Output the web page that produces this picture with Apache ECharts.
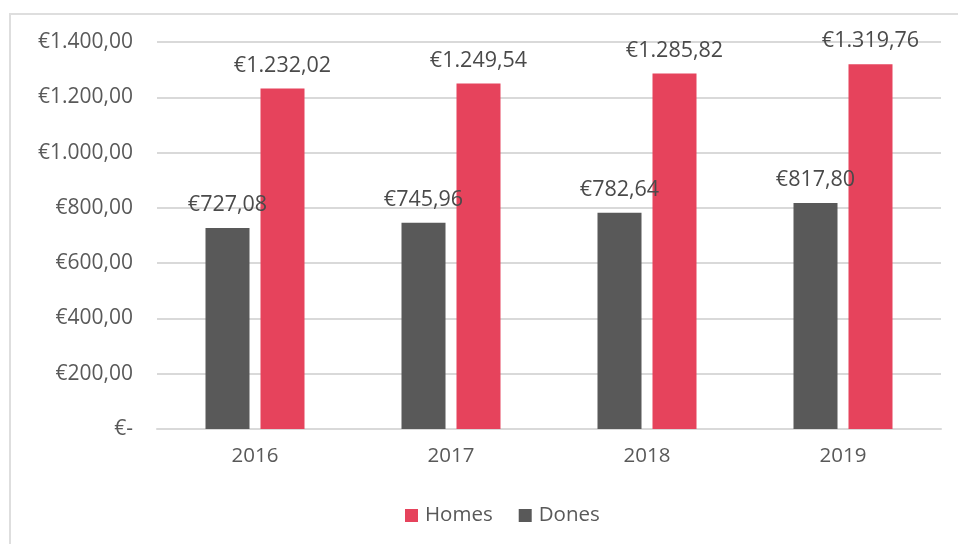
<!DOCTYPE html>
<html>
<head>
<meta charset="utf-8">
<script src="https://cdn.jsdelivr.net/npm/echarts@6/dist/echarts.min.js"></script>
<style>
  html, body { margin: 0; padding: 0; background: #fff; }
  #frame {
    position: absolute; left: 9px; top: 13px; width: 960px; height: 540px;
    border: 2px solid #dedede; box-sizing: border-box;
  }
  #chart { position: absolute; left: 0; top: 0; width: 958px; height: 544px; }
</style>
</head>
<body>
<div id="frame"></div>
<div id="chart"></div>
<script>
const years = ['2016', '2017', '2018', '2019'];
const homes = [1232.02, 1249.54, 1285.82, 1319.76];
const dones = [727.08, 745.96, 782.64, 817.80];
const yTicks = { min: 0, max: 1400, interval: 200 };

const euro = (v) => {
    if (v === 0) return '€-';
    const parts = v.toFixed(2).split('.');
    const whole = parts[0].replace(/\B(?=(\d{3})+(?!\d))/g, '.');
    return '€' + whole + ',' + parts[1];
};

const chart = echarts.init(document.getElementById('chart'));

const labelStyle = {
    show: true,
    position: 'top',
    distance: 12,
    color: '#4a4a4a',
    fontSize: 21.5,
    fontFamily: 'Open Sans',
    formatter: (p) => euro(p.value)
};

const option = {
    animation: false,
    grid: { left: 157, right: 17, top: 42, bottom: 115 },
    legend: {
        bottom: 13,
        left: 400,
        itemWidth: 13,
        itemHeight: 13,
        itemGap: 26,
        icon: 'rect',
        data: ['Homes', 'Dones'],
        textStyle: { color: '#595959', fontSize: 20.5, fontFamily: 'Open Sans', padding: [0, 0, 0, 2] }
    },
    xAxis: {
        type: 'category',
        data: years,
        axisLine: { lineStyle: { color: '#d9d9d9', width: 2 } },
        axisTick: { show: false },
        axisLabel: { color: '#595959', fontSize: 20.5, fontFamily: 'Open Sans', margin: 17 }
    },
    yAxis: {
        type: 'value',
        min: yTicks.min,
        max: yTicks.max,
        interval: yTicks.interval,
        axisLine: { show: false },
        axisTick: { show: false },
        splitLine: { lineStyle: { color: '#d9d9d9', width: 2 } },
        axisLabel: {
            color: '#595959', fontSize: 21, fontFamily: 'Open Sans', margin: 24,
            formatter: euro
        }
    },
    series: [
        {
            name: 'Dones',
            type: 'bar',
            data: dones,
            barWidth: 44,
            barGap: '25%',
            itemStyle: { color: '#595959' },
            label: labelStyle
        },
        {
            name: 'Homes',
            type: 'bar',
            data: homes,
            barWidth: 44,
            itemStyle: { color: '#E6435C' },
            label: labelStyle
        }
    ]
};

chart.setOption(option);
</script>
</body>
</html>
